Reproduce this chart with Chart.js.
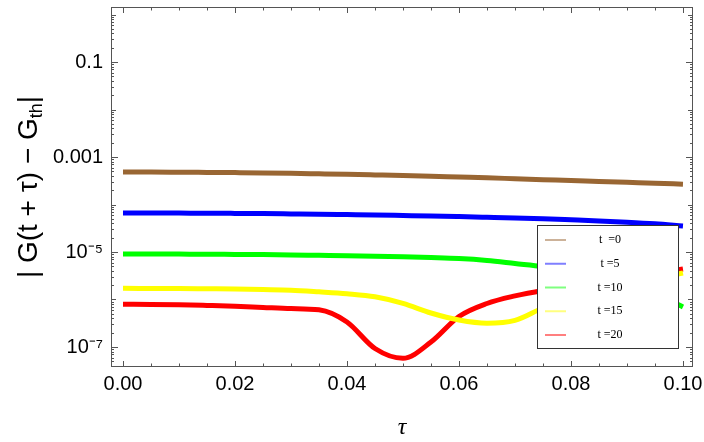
<!DOCTYPE html>
<html>
<head>
<meta charset="utf-8">
<script src="https://cdn.jsdelivr.net/npm/chart.js@4.4.1/dist/chart.umd.min.js"></script>
<style>
html,body{margin:0;padding:0;background:#fff;overflow:hidden;}
canvas{display:block;}
</style>
</head>
<body>
<canvas id="c" width="704" height="442"></canvas>
<script>
// ---- data ----
const tau = [0, 0.005, 0.01, 0.015, 0.02, 0.025, 0.03, 0.035, 0.04, 0.045, 0.05,
             0.055, 0.06, 0.065, 0.07, 0.075, 0.08, 0.085, 0.09, 0.095, 0.1];

const seriesLabels = ['t  =0', 't =5', 't =10', 't =15', 't =20'];
const seriesColors = ['#996633', '#0000ff', '#00ff00', '#ffff00', '#ff0000'];

const t0  = [4.83e-4, 4.83e-4, 4.79e-4, 4.74e-4, 4.69e-4, 4.63e-4, 4.54e-4, 4.43e-4, 4.32e-4, 4.20e-4, 4.08e-4,
             3.94e-4, 3.79e-4, 3.65e-4, 3.49e-4, 3.34e-4, 3.20e-4, 3.06e-4, 2.93e-4, 2.81e-4, 2.68e-4];
const t5  = [6.63e-5, 6.63e-5, 6.59e-5, 6.56e-5, 6.50e-5, 6.43e-5, 6.34e-5, 6.25e-5, 6.13e-5, 6.01e-5, 5.87e-5,
             5.73e-5, 5.56e-5, 5.38e-5, 5.20e-5, 5.00e-5, 4.76e-5, 4.52e-5, 4.24e-5, 3.92e-5, 3.53e-5];
const t10 = [9.08e-6, 9.08e-6, 9.03e-6, 8.99e-6, 8.90e-6, 8.82e-6, 8.69e-6, 8.52e-6, 8.36e-6, 8.16e-6, 7.92e-6,
             7.62e-6, 7.26e-6, 6.62e-6, 5.73e-6, 4.95e-6, 4.08e-6, 3.12e-6, 2.17e-6, 1.34e-6, 6.95e-7];
const t15 = [1.72e-6, 1.71e-6, 1.70e-6, 1.68e-6, 1.66e-6, 1.62e-6, 1.57e-6, 1.45e-6, 1.32e-6, 1.14e-6, 8.28e-7,
             5.20e-7, 3.70e-7, 3.17e-7, 3.63e-7, 6.62e-7, 1.02e-6, 1.47e-6, 2.02e-6, 2.77e-6, 3.61e-6];
const t20 = [7.92e-7, 7.89e-7, 7.74e-7, 7.48e-7, 7.19e-7, 6.79e-7, 6.43e-7, 6.07e-7, 3.36e-7, 9.30e-8, 5.78e-8,
             1.27e-7, 4.39e-7, 8.24e-7, 1.19e-6, 1.55e-6, 1.88e-6, 2.34e-6, 2.90e-6, 3.56e-6, 4.39e-6];

const xTickValues = [0, 0.02, 0.04, 0.06, 0.08, 0.1];
const xTickLabels = ['0.00', '0.02', '0.04', '0.06', '0.08', '0.10'];
const xMinorStep = 0.005;
const yTickValues = [1e-7, 1e-5, 1e-3, 1e-1];
const yTickLabels = ['10\u207B\u2077', '10\u207B\u2075', '0.001', '0.1'];

const xTitle = '\u03C4';
const yTitleMain = '| G(t + \u03C4) \u2212 G';
const yTitleSub = 'th';
const yTitleEnd = '|';

const seriesValues = [t0, t5, t10, t15, t20];

// ---- plugins ----
const framePlugin = {
  id: 'frameTicks',
  afterDatasetsDraw(chart) {
    const {ctx, chartArea: a, scales: {x, y}} = chart;
    ctx.save();
    ctx.strokeStyle = '#555';
    ctx.lineWidth = 1;
    ctx.beginPath();
    const seg = (x1, y1, x2, y2) => { ctx.moveTo(x1, y1); ctx.lineTo(x2, y2); };
    const nMinor = Math.round((xTickValues[xTickValues.length - 1] - xTickValues[0]) / xMinorStep);
    for (let i = 0; i <= nMinor; i++) {
      const v = xTickValues[0] + i * xMinorStep;
      const major = xTickValues.some(t => Math.abs(t - v) < 1e-9);
      const len = major ? 6 : 3.5;
      const px = Math.round(x.getPixelForValue(v)) + 0.5;
      seg(px, a.bottom, px, a.bottom - len);
      seg(px, a.top, px, a.top + len);
    }
    for (let e = -8; e <= 0; e++) {
      for (let m = 1; m <= 9; m++) {
        const v = m * Math.pow(10, e);
        if (v < y.min || v > y.max) continue;
        let len = 3;
        if (m === 1) len = yTickValues.some(t => Math.abs(t / v - 1) < 1e-6) ? 7 : 5;
        const py = Math.round(y.getPixelForValue(v)) + 0.5;
        seg(a.left, py, a.left + len, py);
        seg(a.right, py, a.right - len, py);
      }
    }
    ctx.stroke();
    ctx.strokeRect(a.left + 0.5, a.top + 0.5, a.right - a.left - 1, a.bottom - a.top - 1);
    ctx.restore();
  }
};

const yTitlePlugin = {
  id: 'yTitle',
  afterDraw(chart) {
    const {ctx, chartArea: a} = chart;
    ctx.save();
    const mainFont = '28px "Liberation Sans", Arial, sans-serif';
    const subFont = '18px "Liberation Sans", Arial, sans-serif';
    ctx.font = mainFont;
    const w1 = ctx.measureText(yTitleMain).width;
    const w3 = ctx.measureText(yTitleEnd).width;
    ctx.font = subFont;
    const w2 = ctx.measureText(yTitleSub).width;
    const total = w1 + w2 + w3;
    ctx.translate(37, (a.top + a.bottom) / 2);
    ctx.rotate(-Math.PI / 2);
    ctx.fillStyle = '#000';
    ctx.textBaseline = 'alphabetic';
    ctx.textAlign = 'left';
    let cx = -total / 2;
    ctx.font = mainFont;
    ctx.fillText(yTitleMain, cx, 0);
    cx += w1;
    ctx.font = subFont;
    ctx.fillText(yTitleSub, cx, 5);
    cx += w2;
    ctx.font = mainFont;
    ctx.fillText(yTitleEnd, cx, 0);
    ctx.restore();
  }
};

const boxLegendPlugin = {
  id: 'boxLegend',
  afterDatasetsDraw(chart) {
    const {ctx} = chart;
    const L = 537, T = 225, W = 141, H = 123;
    ctx.save();
    ctx.fillStyle = '#fff';
    ctx.fillRect(L, T, W, H);
    ctx.strokeStyle = '#333';
    ctx.lineWidth = 1;
    ctx.strokeRect(L + 0.5, T + 0.5, W, H);
    ctx.font = '12px "Liberation Serif", "Times New Roman", serif';
    ctx.textBaseline = 'middle';
    ctx.textAlign = 'center';
    chart.data.datasets.forEach((ds, i) => {
      const yy = T + 15 + i * 23.75;
      ctx.globalAlpha = 0.5;
      ctx.strokeStyle = ds.borderColor;
      ctx.lineWidth = 2;
      ctx.beginPath();
      ctx.moveTo(545, yy);
      ctx.lineTo(566, yy);
      ctx.stroke();
      ctx.globalAlpha = 1;
      ctx.fillStyle = '#000';
      ctx.fillText(ds.label, 610, yy);
    });
    ctx.restore();
  }
};

// ---- chart ----
const datasets = seriesValues.map((vals, i) => ({
  label: seriesLabels[i],
  data: tau.map((t, k) => ({x: t, y: vals[k]})),
  borderColor: seriesColors[i],
  backgroundColor: seriesColors[i],
  borderWidth: 5,
  pointRadius: 0,
  fill: false,
  cubicInterpolationMode: 'monotone',
  borderCapStyle: 'butt'
}));

new Chart(document.getElementById('c'), {
  type: 'line',
  data: {datasets},
  options: {
    responsive: false,
    animation: false,
    devicePixelRatio: 1,
    layout: {padding: {left: 0, right: 11, top: 7, bottom: 0}},
    plugins: {legend: {display: false}, tooltip: {enabled: false}},
    scales: {
      x: {
        type: 'linear',
        min: -0.00214,
        max: 0.10179,
        grid: {display: false, drawTicks: false},
        border: {display: false},
        afterBuildTicks: s => { s.ticks = xTickValues.map(v => ({value: v})); },
        afterFit: s => { s.height = 75; s.paddingLeft = 0; s.paddingRight = 0; },
        ticks: {
          padding: 5,
          color: '#000',
          maxRotation: 0,
          autoSkip: false,
          font: {size: 20, family: '"Liberation Sans", Arial, sans-serif'},
          callback: (v) => {
            const i = xTickValues.findIndex(t => Math.abs(t - v) < 1e-9);
            return i >= 0 ? xTickLabels[i] : '';
          }
        },
        title: {
          display: true,
          text: xTitle,
          color: '#000',
          padding: {top: 0, bottom: 0},
          font: {size: 24, style: 'italic', family: '"Liberation Serif", "Times New Roman", serif'}
        }
      },
      y: {
        type: 'logarithmic',
        min: 3.79e-8,
        max: 1.44,
        grid: {display: false, drawTicks: false},
        border: {display: false},
        afterBuildTicks: s => { s.ticks = yTickValues.map(v => ({value: v})); },
        afterFit: s => { s.width = 111; s.paddingTop = 0; s.paddingBottom = 0; },
        ticks: {
          padding: 8,
          color: '#000',
          autoSkip: false,
          font: {size: 20, family: '"Liberation Sans", Arial, sans-serif'},
          callback: (v) => {
            const i = yTickValues.findIndex(t => Math.abs(t / v - 1) < 1e-6);
            return i >= 0 ? yTickLabels[i] : '';
          }
        }
      }
    }
  },
  plugins: [framePlugin, boxLegendPlugin, yTitlePlugin]
});
</script>
</body>
</html>
